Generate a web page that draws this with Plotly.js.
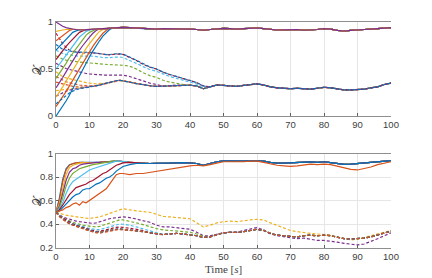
<!DOCTYPE html>
<html><head><meta charset="utf-8">
<script src="https://cdn.plot.ly/plotly-3.0.1.min.js"></script>
<style>body{margin:0;background:#fff}#c{width:432px;height:278px}</style>
</head><body><div id="c"></div>
<script>
// ---- shared time axis (s) ----
const time = [0,1,2,3,4,5,6,7,8,9,10,11,12,13,14,15,16,17,18,19,20,
  22,24,26,28,30,32,34,36,38,40,42,44,46,48,50,52,54,56,58,60,
  62,64,66,68,70,72,74,76,78,80,82,84,86,88,90,92,94,96,98,100];
const xTicks = [0,10,20,30,40,50,60,70,80,90,100];
const yTicksTop = [0,0.5,1];
const yTicksBot = [0.2,0.4,0.6,0.8,1];
const palette = ['#0072BD','#D95319','#EDB120','#7E2F8E','#77AC30','#4DBEEE','#A2142F'];

// ---- top panel: consensus bundles ----
const topBundle = [0.96,0.95,0.94,0.935,0.93,0.925,0.92,0.915,0.915,0.918,0.92,0.92,0.922,0.925,0.928,0.93,0.933,0.937,0.94,0.94,0.942,
  0.94,0.935,0.93,0.925,0.925,0.93,0.93,0.925,0.925,0.925,
  0.92,0.912,0.92,0.93,0.933,0.93,0.925,0.93,0.935,0.936,
  0.93,0.92,0.915,0.917,0.918,0.92,0.912,0.913,0.92,0.929,
  0.925,0.91,0.904,0.91,0.918,0.92,0.925,0.93,0.938,0.94];
const topLow = [0.3,0.3,0.3,0.3,0.3,0.3,0.3,0.3,0.3,0.305,0.31,0.315,0.32,0.33,0.34,0.35,0.36,0.37,0.375,0.38,0.375,
  0.36,0.345,0.33,0.322,0.315,0.318,0.322,0.33,0.33,0.328,
  0.32,0.29,0.31,0.33,0.326,0.32,0.315,0.325,0.335,0.342,
  0.33,0.31,0.3,0.295,0.29,0.295,0.29,0.285,0.295,0.305,
  0.3,0.285,0.277,0.278,0.28,0.285,0.3,0.31,0.335,0.35];
// top solid agents (until they join the bundle)
const topS0 = [0,0.05,0.1,0.16,0.22,0.29,0.36,0.43,0.5,0.57,0.63,0.69,0.75,0.8,0.85,0.89,0.92];
const topS1 = [0.1,0.15,0.2,0.26,0.32,0.38,0.45,0.51,0.57,0.63,0.69,0.74,0.79,0.84,0.88,0.91];
const topS2 = [0.2,0.25,0.31,0.37,0.43,0.49,0.55,0.61,0.67,0.72,0.77,0.82,0.86,0.9,0.92];
const topS3 = [0.3,0.35,0.41,0.47,0.53,0.59,0.64,0.7,0.75,0.8,0.84,0.88,0.91];
const topS4 = [0.4,0.45,0.51,0.56,0.62,0.67,0.72,0.77,0.82,0.86,0.89,0.91];
const topS5 = [0.5,0.55,0.6,0.65,0.7,0.75,0.8,0.84,0.87,0.9,0.915];
const topS6 = [0.6,0.65,0.69,0.74,0.78,0.82,0.86,0.89,0.905];
const topS7 = [0.7,0.74,0.78,0.82,0.86,0.89,0.905];
const topS8 = [0.8,0.83,0.86,0.89,0.91,0.92];
const topS9 = [0.9,0.91,0.915,0.92,0.925];
const topS10 = [1.0,0.975,0.955,0.94,0.93];
// top dashed agents (until they join the low bundle)
const topD0 = [0.13,0.16,0.19,0.22,0.245,0.265,0.28,0.29,0.296,0.3];
const topD1 = [0.42,0.4,0.38,0.365,0.352,0.343,0.335,0.33,0.325,0.32,0.318,0.318,0.32,0.325,0.335,0.345,0.355,0.365,0.372,0.378];
const topD2 = [0.47,0.44,0.42,0.405,0.395,0.385,0.378,0.37,0.363,0.355,0.348,0.345,0.343,0.343,0.345,0.35,0.358,0.368,0.375,0.38,0.375];
const topD3 = [0.56,0.54,0.52,0.505,0.495,0.485,0.475,0.465,0.458,0.452,0.447,0.443,0.44,0.438,0.436,0.435,0.435,0.437,0.44,0.44,0.435,
  0.42,0.395,0.37,0.35,0.335];
const topD4 = [0.64,0.62,0.605,0.595,0.588,0.582,0.578,0.574,0.57,0.566,0.562,0.558,0.555,0.552,0.55,0.548,0.546,0.545,0.544,0.542,0.54,
  0.53,0.5,0.46,0.43,0.41,0.38,0.36,0.345,0.335];
const topD5 = [0.7,0.68,0.665,0.655,0.648,0.642,0.64,0.636,0.634,0.636,0.64,0.638,0.633,0.628,0.622,0.618,0.62,0.625,0.63,0.628,0.622,
  0.595,0.56,0.525,0.495,0.475,0.445,0.42,0.4,0.38,0.36,0.34,0.31];
const topD6 = [0.88,0.82,0.77,0.73,0.7,0.69,0.68,0.675,0.67,0.672,0.675,0.672,0.668,0.662,0.655,0.65,0.65,0.655,0.66,0.66,0.655,
  0.625,0.59,0.55,0.52,0.5,0.465,0.44,0.42,0.395,0.375,0.355,0.32];
const topD7 = [0.76,0.73,0.71,0.7,0.69,0.685,0.68,0.678,0.675,0.678,0.68,0.676,0.67,0.665,0.658,0.652,0.652,0.658,0.662,0.662,0.658,
  0.628,0.592,0.552,0.522,0.5,0.466,0.442,0.42,0.396,0.376,0.356,0.32];
const topD8 = [0.36,0.35,0.34,0.33,0.322,0.316,0.31,0.306,0.304,0.305,0.31];
const topD9 = [0.27,0.275,0.28,0.285,0.29,0.295,0.298,0.3];
const topD10 = [0.21,0.23,0.25,0.265,0.275,0.285,0.29,0.295,0.3];

// ---- bottom panel ----
const botBundle = [0.5,0.6,0.76,0.86,0.9,0.915,0.92,0.925,0.925,0.92,0.92,0.922,0.925,0.925,0.928,0.93,0.932,0.935,0.935,0.935,0.93,
  0.925,0.92,0.915,0.915,0.917,0.915,0.918,0.92,0.922,0.92,
  0.915,0.9,0.915,0.93,0.937,0.935,0.932,0.935,0.94,0.94,
  0.935,0.925,0.918,0.918,0.92,0.925,0.93,0.928,0.925,0.93,
  0.922,0.912,0.908,0.91,0.914,0.918,0.922,0.93,0.935,0.94];
const botLow = [0.5,0.47,0.45,0.43,0.41,0.4,0.39,0.38,0.37,0.36,0.35,0.34,0.335,0.33,0.335,0.34,0.345,0.35,0.355,0.36,0.355,
  0.35,0.34,0.335,0.325,0.315,0.31,0.315,0.32,0.315,0.31,
  0.3,0.285,0.29,0.31,0.325,0.33,0.328,0.335,0.345,0.355,
  0.345,0.32,0.305,0.3,0.295,0.29,0.3,0.305,0.3,0.305,
  0.3,0.285,0.275,0.272,0.275,0.28,0.29,0.305,0.325,0.34];
const botS0 = [0.5,0.62,0.78,0.87,0.905];
const botS1 = [0.5,0.6,0.76,0.86,0.9];
const botS2 = [0.5,0.57,0.7,0.82,0.88,0.9,0.91,0.92];
const botS3 = [0.5,0.55,0.66,0.77,0.84,0.87,0.88,0.9,0.91,0.915,0.92];
const botS4 = [0.5,0.54,0.62,0.72,0.79,0.83,0.85,0.87,0.88,0.89,0.9,0.905,0.91,0.915,0.92];
const botS5 = [0.5,0.53,0.58,0.66,0.72,0.76,0.78,0.8,0.82,0.84,0.86,0.87,0.88,0.89,0.9,0.91,0.92,0.925];
const botS6 = [0.5,0.52,0.56,0.61,0.65,0.68,0.71,0.72,0.73,0.74,0.76,0.77,0.79,0.81,0.83,0.84,0.86,0.88,0.9,0.91,0.92,0.925];
const botS7 = [0.5,0.51,0.54,0.57,0.6,0.63,0.65,0.66,0.69,0.7,0.7,0.72,0.74,0.75,0.77,0.79,0.8,0.82,0.85,0.87,0.89,
  0.905,0.915,0.915];
const botS8 = [0.5,0.51,0.52,0.54,0.55,0.57,0.58,0.56,0.59,0.58,0.6,0.62,0.64,0.66,0.68,0.7,0.74,0.78,0.82,0.83,0.83,
  0.82,0.83,0.83,0.84,0.85,0.855,0.865,0.875,0.885,0.895,
  0.9,0.895,0.905,0.92,0.93,0.93,0.928,0.93,0.935,0.935,
  0.925,0.912,0.9,0.895,0.89,0.895,0.905,0.91,0.905,0.91,
  0.905,0.89,0.875,0.865,0.86,0.87,0.885,0.905,0.92,0.93];
const botD0 = [0.5,0.468,0.446,0.426,0.406,0.395,0.386,0.375,0.366,0.356,0.346];
const botD1 = [0.5,0.465,0.44,0.42,0.4,0.39,0.378,0.37,0.36,0.35,0.34,0.332,0.325,0.322,0.328,0.335,0.34,0.345,0.35,0.352,0.35];
const botD2 = [0.5,0.49,0.48,0.475,0.47,0.465,0.46,0.455,0.45,0.45,0.448,0.45,0.455,0.46,0.47,0.48,0.49,0.5,0.515,0.525,0.53,
  0.52,0.51,0.505,0.5,0.48,0.465,0.46,0.455,0.45,0.445,
  0.41,0.375,0.39,0.41,0.42,0.425,0.42,0.43,0.435,0.44,
  0.435,0.41,0.39,0.37,0.345,0.335,0.325,0.32,0.315,0.31,
  0.305,0.29,0.275,0.265,0.27,0.285,0.295,0.31,0.33,0.345];
const botD3 = [0.5,0.48,0.46,0.45,0.44,0.43,0.425,0.42,0.415,0.41,0.405,0.405,0.41,0.42,0.43,0.44,0.445,0.45,0.455,0.46,0.46,
  0.455,0.44,0.43,0.415,0.39,0.375,0.375,0.37,0.365,0.355,
  0.33,0.3,0.3,0.315,0.325,0.33,0.33,0.345,0.36,0.37,
  0.35,0.315,0.3,0.29,0.28,0.275,0.28,0.27,0.26,0.26,
  0.255,0.245,0.235,0.228,0.222,0.23,0.25,0.275,0.3,0.325];
const botD4 = [0.5,0.475,0.455,0.44,0.425,0.415,0.405,0.395,0.39,0.385,0.38,0.375,0.375,0.38,0.39,0.4,0.41,0.42,0.43,0.435,0.435,
  0.425,0.41,0.395,0.375,0.36,0.35,0.345,0.345,0.34,0.33,0.315,0.295];
const botD5 = [0.5,0.472,0.452,0.435,0.418,0.405,0.395,0.385,0.378,0.37,0.362,0.355,0.352,0.352,0.36,0.37,0.38,0.39,0.395,0.4,0.398,
  0.39,0.375,0.36,0.345,0.33];
const botD6 = [0.5,0.47,0.45,0.432,0.415,0.402,0.39,0.38,0.372,0.363,0.355,0.345,0.34,0.338,0.345,0.352,0.36,0.368,0.372,0.375,0.372,
  0.365,0.355,0.345];
const botD7 = [0.5,0.466,0.444,0.424,0.404,0.394,0.384,0.374,0.364,0.354,0.344,0.336];
const botD8 = [0.5,0.464,0.442,0.422,0.402,0.392,0.38,0.372,0.362,0.352,0.342,0.334,0.33];

// ---- build traces ----
function join(own, shared){ return own.concat(shared.slice(own.length)); }
function tr(vals, color, dashed, xa, ya){
  return {x: time, y: vals, type:'scatter', mode:'lines', xaxis: xa, yaxis: ya, hoverinfo:'skip',
    line:{color: color, width: 1.2, dash: dashed ? '3px,2px' : 'solid'}};
}
const topSolid = [topS0,topS1,topS2,topS3,topS4,topS5,topS6,topS7,topS8,topS9,topS10];
const topDash = [topD0,topD1,topD2,topD3,topD4,topD5,topD6,topD7,topD8,topD9,topD10];
const botSolid = [botS0,botS1,botS2,botS3,botS4,botS5,botS6,botS7,botS8];
const botDash = [botD0,botD1,botD2,botD3,botD4,botD5,botD6,botD7,botD8];

const traces = [];
// top: dashed (except blue 0), solids, then blue dashed on top
for (let i = 1; i < topDash.length; i++) traces.push(tr(join(topDash[i], topLow), palette[i % 7], true, 'x', 'y'));
for (let i = 0; i < topSolid.length; i++) traces.push(tr(join(topSolid[i], topBundle), palette[i % 7], false, 'x', 'y'));
traces.push(tr(join(topDash[0], topLow), palette[0], true, 'x', 'y'));
// bottom
for (let i = 0; i < botDash.length; i++) traces.push(tr(join(botDash[i], botLow), palette[i % 7], true, 'x2', 'y2'));
for (let i = 0; i < botSolid.length; i++) traces.push(tr(join(botSolid[i], botBundle), palette[i % 7], false, 'x2', 'y2'));

const axisLine = '#8f8f8f';
const gridC = '#e6e6e6';
const tickF = {family:'Liberation Sans, Arial, sans-serif', size: 9.5, color:'#404040'};
function xa(anchor){
  return {anchor: anchor, domain:[0,1], range:[0,100], tickmode:'array', tickvals: xTicks,
    showgrid:true, gridcolor: gridC, gridwidth:1, zeroline:false, showline:true, linecolor: axisLine,
    linewidth:1, mirror:true, ticks:'inside', ticklen:3, tickcolor:'#606060', tickfont: tickF};
}
const layout = {
  width:432, height:278, margin:{l:56, r:41, t:0, b:0},
  paper_bgcolor:'#ffffff', plot_bgcolor:'#ffffff', showlegend:false,
  xaxis: xa('y'),
  xaxis2: xa('y2'),
  yaxis: {domain:[0.5827,0.9209], range:[0,1], tickmode:'array', tickvals: yTicksTop,
    showgrid:false, zeroline:false, showline:true, linecolor: axisLine, ticks:'inside', ticklen:3,
    tickcolor:'#606060', tickfont: tickF},
  yaxis2: {domain:[0.1097,0.4478], range:[0.2,1], tickmode:'array', tickvals: yTicksBot,
    showgrid:true, gridcolor: gridC, zeroline:false, showline:true, linecolor: axisLine, ticks:'inside', ticklen:3,
    tickcolor:'#606060', tickfont: tickF},
  annotations: [
    {text:'Time [<i>s</i>]', xref:'paper', yref:'paper', x:0.5, y:0.032, showarrow:false,
      xanchor:'center', yanchor:'middle', font:{family:'Liberation Serif, Times New Roman, serif', size:11, color:'#404040'}},
    {text:'𝒳', xref:'paper', yref:'paper', x:-0.054, y:0.752, showarrow:false, textangle:-90,
      xanchor:'center', yanchor:'middle', font:{family:'DejaVu Serif, Noto Sans, serif', size:11, color:'#404040'}},
    {text:'𝒳', xref:'paper', yref:'paper', x:-0.054, y:0.281, showarrow:false, textangle:-90,
      xanchor:'center', yanchor:'middle', font:{family:'DejaVu Serif, Noto Sans, serif', size:11, color:'#404040'}}
  ]
};
Plotly.newPlot('c', traces, layout, {staticPlot:true, displayModeBar:false});
</script>
</body></html>
